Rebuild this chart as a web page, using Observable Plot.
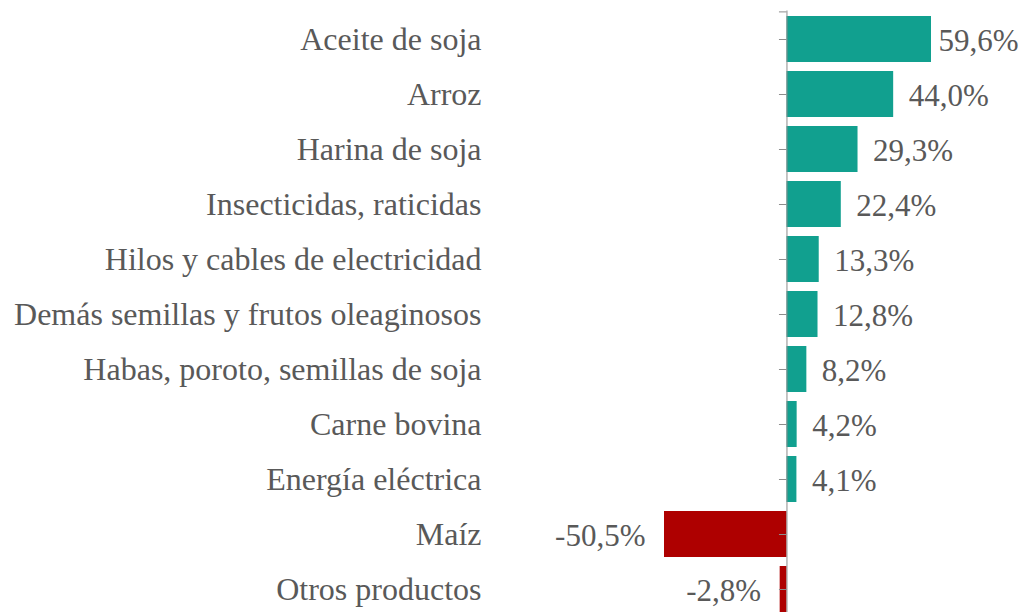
<!DOCTYPE html>
<html><head><meta charset="utf-8">
<script src="https://cdn.jsdelivr.net/npm/d3@7"></script>
<script src="https://cdn.jsdelivr.net/npm/@observablehq/plot@0.6"></script>
<style>html,body{margin:0;padding:0;background:#fff;} #chart svg{display:block}</style>
</head><body><div id="chart"></div>
<script>
const categories = [
  "Aceite de soja",
  "Arroz",
  "Harina de soja",
  "Insecticidas, raticidas",
  "Hilos y cables de electricidad",
  "Demás semillas y frutos oleaginosos",
  "Habas, poroto, semillas de soja",
  "Carne bovina",
  "Energía eléctrica",
  "Maíz",
  "Otros productos"
];
const values = [59.6, 44.0, 29.3, 22.4, 13.3, 12.8, 8.2, 4.2, 4.1, -50.5, -2.8];
const valueLabels = ["59,6%", "44,0%", "29,3%", "22,4%", "13,3%", "12,8%", "8,2%", "4,2%", "4,1%", "-50,5%", "-2,8%"];

const data = categories.map((c, i) => ({cat: c, value: values[i], label: valueLabels[i]}));

const teal = "#11A08F", red = "#AE0000", textGray = "#595959", axisGray = "#8C8C8C";
const n = categories.length, pad = 0.167, yRange = [5.8, 622.2];
const step = (yRange[1] - yRange[0]) / (n + pad);
const maxV = d3.max(values);

const chart = Plot.plot({
  width: 1023, height: 612,
  marginTop: 10.5, marginBottom: 0, marginLeft: 481, marginRight: 0,
  style: {fontFamily: "'Liberation Serif', 'Times New Roman', serif", background: "#fff"},
  x: {domain: d3.extent(values), range: [664, 931], axis: null},
  y: {domain: categories, range: yRange, padding: pad, axis: null},
  marks: [
    Plot.barX(data, {filter: d => d.value >= 0, x: "value", y: "cat", fill: teal}),
    Plot.barX(data, {filter: d => d.value < 0, x: "value", y: "cat", fill: red}),
    Plot.ruleX([0], {stroke: axisGray, strokeWidth: 1}),
    Plot.ruleY(categories, {y: d => d, x1: 0, x2: 0, insetLeft: -7.5, stroke: axisGray}),
    Plot.ruleY([categories[0]], {y: d => d, x1: 0, x2: 0, insetLeft: -7.5, dy: -step / 2, stroke: axisGray}),
    Plot.text(categories, {y: d => d, frameAnchor: "left", textAnchor: "end", fontSize: 32, fill: textGray}),
    Plot.text(data, {filter: d => d.value >= 0 && d.value < maxV, x: "value", y: "cat", text: "label", textAnchor: "start", dx: 15, dy: 2, fontSize: 31, fill: textGray}),
    Plot.text(data, {filter: d => d.value === maxV, x: "value", y: "cat", text: "label", textAnchor: "start", dx: 7, dy: 2, fontSize: 31, fill: textGray}),
    Plot.text(data, {filter: d => d.value < 0, x: "value", y: "cat", text: "label", textAnchor: "end", dx: -19, dy: 2, fontSize: 31, fill: textGray})
  ]
});
document.getElementById("chart").appendChild(chart);
</script>
</body></html>
